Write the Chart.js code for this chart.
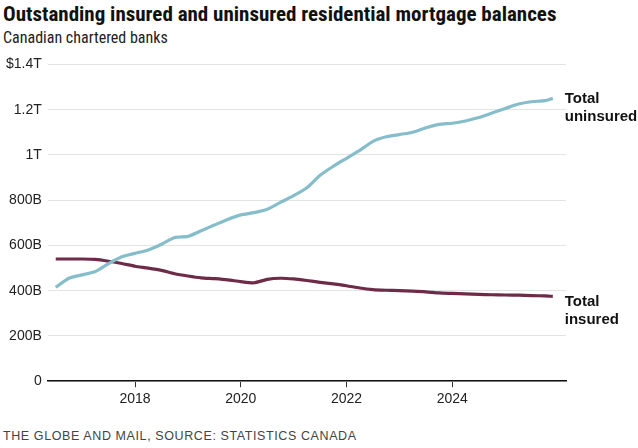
<!DOCTYPE html>
<html><head><meta charset="utf-8">
<script src="https://cdn.jsdelivr.net/npm/chart.js@4.4.1/dist/chart.umd.min.js"></script>
<style>
body{margin:0;background:#fff;font-family:"Liberation Sans Narrow","Roboto Condensed","Liberation Sans",sans-serif;width:638px;height:448px;overflow:hidden;position:relative}
h1{position:absolute;left:3px;top:2px;margin:0;font-size:21px;font-weight:bold;color:#111}
.sub{position:absolute;left:3px;top:28px;font-size:16px;color:#222}
.src{position:absolute;left:3px;top:429px;font-size:12.5px;color:#444;letter-spacing:0.6px;font-family:"Liberation Sans",sans-serif}
#wrap{position:absolute;left:0;top:50px;width:638px;height:362px}
</style></head><body>
<h1>Outstanding insured and uninsured residential mortgage balances</h1>
<div class="sub">Canadian chartered banks</div>
<div id="wrap"><canvas id="c"></canvas></div>
<div class="src">THE GLOBE AND MAIL, SOURCE: STATISTICS CANADA</div>
<script>
const years = [2016.5,2016.75,2017,2017.25,2017.5,2017.75,2018,2018.25,2018.5,2018.75,2019,2019.25,2019.5,2019.75,2020,2020.25,2020.5,2020.75,2021,2021.25,2021.5,2021.75,2022,2022.25,2022.5,2022.75,2023,2023.25,2023.5,2023.75,2024,2024.25,2024.5,2024.75,2025,2025.25,2025.5,2025.75,2025.9];
const uninsured = [415,455,470,485,520,550,565,580,605,635,640,665,690,715,735,745,760,790,820,855,910,950,985,1020,1060,1080,1090,1100,1120,1135,1140,1150,1165,1185,1205,1225,1235,1240,1250];
const insured = [540,540,540,538,530,520,508,500,490,475,465,457,453,448,440,435,450,455,452,445,437,430,422,412,405,402,400,398,395,390,388,386,384,382,381,380,378,377,375];
const yTicks = ['0','200B','400B','600B','800B','1T','1.2T','$1.4T'];

const endLabels = {
  id:'endLabels',
  afterDatasetsDraw(chart){
    const ctx = chart.ctx;
    ctx.save();
    ctx.font = 'bold 15px "Liberation Sans Narrow","Liberation Sans",sans-serif';
    ctx.fillStyle = '#111';
    ctx.textBaseline = 'middle';
    chart.data.datasets.forEach((ds,i)=>{
      const pt = chart.getDatasetMeta(i).data[ds.data.length-1];
      const lines = ds.label.split('\n');
      const y0 = pt.y + (i===0 ? 10 : 15);
      lines.forEach((l,j)=>ctx.fillText(l, pt.x+12, y0 + (j-0.5)*18));
    });
    ctx.restore();
  }
};

new Chart(document.getElementById('c'), {
  type:'line',
  data:{datasets:[
    {label:'Total\nuninsured', data: years.map((x,i)=>({x, y: uninsured[i]})), borderColor:'#86bdca', borderWidth:3.2, pointRadius:0, tension:0.2},
    {label:'Total\ninsured', data: years.map((x,i)=>({x, y: insured[i]})), borderColor:'#6e2b48', borderWidth:3.2, pointRadius:0, tension:0.2}
  ]},
  options:{
    responsive:true, maintainAspectRatio:false, animation:false,
    layout:{padding:{left:0,right:72,top:8,bottom:0}},
    plugins:{legend:{display:false}, tooltip:{enabled:false}},
    scales:{
      x:{type:'linear', min:2016.35, max:2026.15,
        afterBuildTicks(s){ s.ticks=[2018,2020,2022,2024].map(v=>({value:v})); },
        ticks:{color:'#222', font:{size:14, family:'"Liberation Sans Narrow","Liberation Sans",sans-serif'}, padding:4, callback:v=>String(v)},
        grid:{display:true, drawOnChartArea:false, drawTicks:true, tickLength:6, color:'#333'},
        border:{display:true, color:'#111', width:1.5}
      },
      y:{min:0, max:1400,
        afterBuildTicks(s){ s.ticks=[0,200,400,600,800,1000,1200,1400].map(v=>({value:v})); },
        ticks:{color:'#222', font:{size:14, family:'"Liberation Sans Narrow","Liberation Sans",sans-serif'}, padding:6, callback:(v)=>yTicks[v/200]},
        grid:{color:'#e3e3e3', drawTicks:false},
        border:{display:false}
      }
    }
  },
  plugins:[endLabels]
});
</script>
</body></html>
